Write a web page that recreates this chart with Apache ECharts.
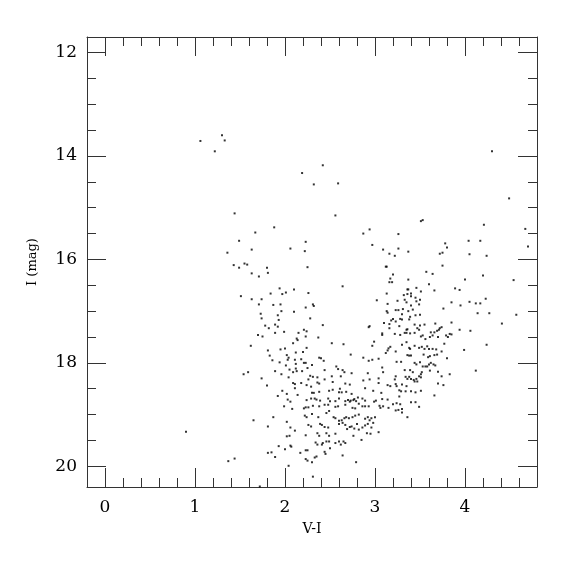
<!DOCTYPE html>
<html><head><meta charset="utf-8">
<script src="https://cdn.jsdelivr.net/npm/echarts@6/dist/echarts.min.js"></script>
<style>html,body{margin:0;padding:0;background:#fff}#c{width:575px;height:575px}</style>
</head><body><div id="c"></div>
<script>
const xMajorTicks = [0, 1, 2, 3, 4];
const xMinorTicks = [0.2,0.4,0.6,0.8,1.2,1.4,1.6,1.8,2.2,2.4,2.6,2.8,3.2,3.4,3.6,3.8,4.2,4.4,4.6];
const yMajorTicks = [12, 14, 16, 18, 20];
const yMinorTicks = [12.5,13,13.5,14.5,15,15.5,16.5,17,17.5,18.5,19,19.5];

const pointsUpperLeft = [
[1.30,13.60],[1.06,13.71],[1.33,13.70],[1.22,13.91],
[1.44,15.11],[1.88,15.38],[1.67,15.48],[1.49,15.64],[1.63,15.81],[2.06,15.79],[1.36,15.87],[1.43,16.11],[1.49,16.16],[1.55,16.08],[1.58,16.10],[1.80,16.16],[1.81,16.26],[1.63,16.27],[1.71,16.33],[1.94,16.56],[1.84,16.66],[1.97,16.67],[2.01,16.64],[2.10,16.58],[1.51,16.71],[1.63,16.77],[1.74,16.77]
];
const pointsMiddle = [
[2.42,14.18],[2.19,14.33],[2.32,14.55],[2.59,14.53],[2.56,15.15],[2.87,15.50],[2.94,15.42],[2.23,15.66],[2.22,15.84],[2.97,15.72],[2.25,16.15],[2.64,16.52],[2.26,16.65],[1.71,16.87],[1.87,16.88],[1.95,16.87],[2.31,16.87],[2.32,16.90],[3.02,16.79],[1.73,17.05],[1.96,17.00],[2.10,17.01],[2.23,16.93],[1.92,17.08],[1.74,17.14],[1.93,17.17],[2.28,17.14],[1.78,17.28],[1.82,17.33],[1.89,17.26],[1.92,17.30],[2.42,17.27],[2.93,17.31],[2.94,17.29],[1.70,17.46],[1.75,17.49],[1.89,17.42],[1.99,17.40],[2.15,17.42],[2.21,17.36],[2.24,17.39],[2.13,17.53],[2.23,17.49],[2.37,17.51]
];
const pointsLower = [
[1.62,17.67],[1.81,17.76],[1.83,17.86],[1.95,17.74],[2.00,17.72],[2.02,17.85],[2.03,17.94],[2.04,17.90],[2.09,17.62],[2.14,17.56],[2.12,17.80],[2.20,17.79],[2.24,17.71],[2.52,17.62],[2.65,17.64],[2.73,17.84],[2.97,17.67],[2.99,17.59],
[1.86,17.95],[1.94,17.99],[2.11,17.94],[2.18,17.93],[2.21,18.00],[2.23,18.00],[2.30,18.04],[2.38,17.90],[2.40,17.91],[2.43,17.96],[2.87,17.90],[2.93,17.96],[2.97,17.94],
[1.54,18.22],[1.59,18.18],[1.89,18.16],[1.96,18.22],[2.05,18.13],[2.12,18.11],[2.13,18.16],[2.09,18.18],[2.19,18.16],[2.44,18.14],[2.57,18.07],[2.59,18.12],[2.64,18.14],[2.66,18.18],[2.74,18.20],[2.92,18.20],
[2.28,18.25],[2.31,18.27],[2.36,18.28],[2.52,18.26],[1.74,18.30],[2.09,18.39],[2.11,18.41],[2.18,18.39],[2.26,18.32],[2.36,18.38],[2.44,18.32],[2.53,18.37],[2.67,18.40],[2.72,18.42],[2.87,18.34],[2.94,18.32],
[1.80,18.44],[2.11,18.49],[2.24,18.43],[2.29,18.46],[2.38,18.40],[2.61,18.50],[2.89,18.49],[2.98,18.54],
[1.97,18.54],[2.02,18.60],[1.92,18.64],[2.14,18.62],[2.30,18.58],[2.32,18.58],[2.38,18.56],[2.49,18.54],[2.53,18.52],[2.60,18.57],[2.63,18.57],[2.68,18.56],[2.74,18.60],[2.77,18.70],[2.79,18.74],[2.81,18.67],[2.86,18.69],
[2.03,18.71],[2.06,18.75],[2.24,18.72],[2.29,18.69],[2.33,18.69],[2.35,18.71],[2.39,18.73],[2.48,18.69],[2.50,18.74],[2.56,18.74],[2.60,18.69],[2.67,18.74],[2.70,18.72],[2.72,18.75],[2.73,18.73],[2.76,18.72],[2.82,18.79],[2.89,18.73],[2.99,18.75],[3.01,18.73],
[1.99,18.84],[2.08,18.89],[2.21,18.88],[2.23,18.86],[2.26,18.86],[2.31,18.83],[2.38,18.84],[2.44,18.81],[2.48,18.81],[2.56,18.85],[2.59,18.84],[2.67,18.81],[2.75,18.87],[2.78,18.88],[2.86,18.84],[2.89,18.84],[2.93,18.84],
[1.87,19.05],[1.65,19.11],[2.02,19.14],[2.22,19.02],[2.24,19.05],[2.30,18.99],[2.37,19.05],[2.46,18.97],[2.49,18.93],[2.54,19.05],[2.56,19.07],[2.60,19.12],[2.63,19.11],[2.66,19.07],[2.68,19.05],[2.71,19.07],[2.75,19.05],[2.78,19.02],[2.82,19.00],[2.89,19.08],[2.92,19.05],[2.94,19.11],[2.96,19.07],[3.00,19.05],
[1.81,19.23],[2.06,19.25],[2.11,19.31],[2.26,19.20],[2.29,19.23],[2.39,19.18],[2.41,19.20],[2.44,19.24],[2.48,19.25],[2.60,19.18],[2.64,19.16],[2.67,19.20],[2.69,19.28],[2.72,19.24],[2.74,19.23],[2.77,19.27],[2.80,19.18],[2.82,19.29],[2.86,19.25],[2.89,19.21],[2.92,19.18],[2.96,19.25],[2.98,19.16],[3.04,19.34],
[0.90,19.33],[2.02,19.42],[2.05,19.41],[2.23,19.40],[2.36,19.36],[2.38,19.41],[2.46,19.36],[2.49,19.41],[2.56,19.37],[2.76,19.41],[2.85,19.49],[2.91,19.36],[2.95,19.37],
[1.93,19.61],[2.00,19.67],[2.06,19.60],[2.07,19.62],[2.17,19.74],[2.23,19.69],[2.25,19.69],[2.34,19.54],[2.36,19.58],[2.41,19.58],[2.42,19.55],[2.46,19.52],[2.49,19.52],[2.50,19.65],[2.56,19.55],[2.60,19.52],[2.62,19.58],[2.65,19.52],[2.67,19.55],[2.44,19.72],[2.45,19.76],[2.64,19.79],[1.81,19.74],[1.85,19.73],[1.89,19.82],[1.37,19.90],[1.44,19.85],[2.23,19.86],[2.25,19.89],[2.30,19.92],[2.33,19.83],[2.35,19.81],[2.04,19.99],[2.79,19.92],[2.31,20.20],[1.72,20.39],
[2.25,18.10],[2.12,18.02],[2.04,18.28],[2.62,18.26],[3.09,18.18],[3.04,18.39],[2.01,18.05]
];
const pointsRightOuter = [
[4.30,13.91],[4.49,14.82],[3.51,15.26],[3.53,15.24],[4.21,15.33],[4.67,15.41],[3.26,15.51],[4.04,15.64],[4.17,15.64],[4.70,15.75],[3.09,15.81],[3.16,15.89],[3.22,15.93],[3.26,15.79],[3.37,15.85],[3.78,15.69],[3.80,15.77],[3.72,15.89],[3.75,15.87],[4.05,15.90],[4.24,15.93],[3.12,16.14],[3.13,16.14],[3.75,16.12],[3.20,16.29],[3.17,16.37],[3.16,16.44],[3.19,16.44],[3.57,16.24],[3.64,16.28],[3.60,16.48],[3.66,16.60],[4.00,16.39],[4.20,16.31],[4.54,16.40],[3.13,16.66],[3.36,16.58],[3.37,16.58],[3.36,16.67],[3.40,16.66],[3.40,16.71],[3.51,16.62],[3.46,16.55],[3.89,16.56],[3.94,16.59],[4.23,16.76],[4.05,16.82],[4.12,16.85],[4.17,16.85],[3.85,16.83],[3.95,16.89],[4.14,17.04],[4.27,17.04],[4.57,17.07],[4.41,17.24],[4.06,17.38],[4.24,17.65],[3.99,17.75],[4.12,18.15],[3.37,16.39]
];
const pointsRightDense = [
[3.32,16.69],[3.33,16.78],[3.35,16.83],[3.25,16.80],[3.14,16.86],[3.45,16.74],[3.46,16.81],[3.40,16.89],[3.50,16.78],[3.49,16.87],[3.76,16.95],
[3.13,17.00],[3.14,17.03],[3.23,16.98],[3.26,16.98],[3.31,16.96],[3.37,17.00],[3.42,16.97],[3.50,17.07],[3.45,17.08],[3.39,17.11],[3.38,17.16],[3.30,17.06],[3.20,17.15],[3.18,17.18],[3.16,17.25],[3.28,17.15],[3.30,17.16],[3.23,17.20],[3.10,17.23],[3.67,17.24],[3.85,17.22],[3.44,17.26],[3.50,17.28],[3.55,17.26],[3.27,17.29],[3.16,17.33],[3.36,17.35],[3.35,17.36],[3.47,17.33],[3.49,17.36],[3.62,17.41],[3.66,17.41],[3.69,17.38],[3.71,17.36],[3.72,17.33],[3.74,17.31],[3.94,17.36],
[3.08,17.43],[3.08,17.46],[3.22,17.44],[3.28,17.46],[3.33,17.42],[3.35,17.42],[3.39,17.43],[3.44,17.42],[3.51,17.49],[3.53,17.47],[3.56,17.54],[3.61,17.50],[3.64,17.47],[3.70,17.50],[3.79,17.47],[3.81,17.50],[3.83,17.44],[3.85,17.45],[3.77,17.63],
[3.15,17.72],[3.17,17.69],[3.35,17.60],[3.30,17.65],[3.38,17.71],[3.39,17.73],[3.44,17.67],[3.49,17.71],[3.52,17.69],[3.55,17.73],[3.58,17.68],[3.60,17.73],[3.64,17.73],[3.68,17.74],[3.74,17.78],[3.12,17.81],[3.14,17.76],[3.23,17.78],[3.36,17.85],[3.38,17.86],[3.40,17.86],[3.54,17.84],[3.59,17.89],[3.61,17.87],[3.66,17.85],[3.69,17.84],[3.80,17.91],[3.04,17.92],[3.24,17.98],[3.29,17.98],[3.44,18.00],[3.46,18.03],[3.50,17.99],[3.53,18.07],[3.56,18.07],[3.58,18.07],[3.60,18.03],[3.62,18.00],[3.65,18.03],[3.67,18.05],
[3.08,18.09],[3.33,18.14],[3.39,18.14],[3.42,18.18],[3.51,18.22],[3.52,18.18],[3.61,18.15],[3.70,18.17],[3.74,18.26],[3.83,18.22],[3.04,18.30],[3.23,18.26],[3.22,18.32],[3.34,18.27],[3.36,18.31],[3.38,18.27],[3.40,18.31],[3.43,18.33],[3.44,18.36],[3.46,18.31],[3.47,18.36],[3.49,18.26],[3.51,18.28],[3.23,18.41],[3.24,18.45],[3.14,18.43],[3.17,18.45],[3.30,18.42],[3.35,18.45],[3.70,18.40],[3.76,18.43],
[3.07,18.58],[3.08,18.70],[3.27,18.53],[3.29,18.55],[3.34,18.55],[3.40,18.55],[3.45,18.57],[3.51,18.54],[3.66,18.63],[3.14,18.71],[3.27,18.65],[3.40,18.76],[3.45,18.76],[3.24,18.78],[3.28,18.80],[3.20,18.80],[3.05,18.83],[3.06,18.87],[3.09,18.84],[3.23,18.92],[3.26,18.91],[3.30,18.96],[3.30,18.89],[3.15,18.87],[3.49,18.85],[3.36,19.05]
];

const allPoints = [].concat(pointsUpperLeft, pointsMiddle, pointsLower, pointsRightOuter, pointsRightDense);

const FONT = 'DejaVu Serif';
const LINE = '#333';
const X_MIN = -0.2, X_MAX = 4.8, Y_MIN = 11.7, Y_MAX = 20.4;

function xAx(pos, ticks, len, labels, line, extra) {
  return Object.assign({
    type: 'value', position: pos, min: X_MIN, max: X_MAX,
    axisLine: {show: line, onZero: false, lineStyle: {color: LINE, width: 1}},
    axisTick: {show: true, inside: true, length: len, customValues: ticks, lineStyle: {color: LINE, width: 1}},
    axisLabel: labels ? {show: true, customValues: ticks, margin: 12, color: '#000', fontFamily: FONT, fontSize: 17} : {show: false},
    splitLine: {show: false}
  }, extra || {});
}
function yAx(pos, ticks, len, labels, line, extra) {
  return Object.assign({
    type: 'value', position: pos, min: Y_MIN, max: Y_MAX, inverse: true,
    axisLine: {show: line, onZero: false, lineStyle: {color: LINE, width: 1}},
    axisTick: {show: true, inside: true, length: len, customValues: ticks, lineStyle: {color: LINE, width: 1}},
    axisLabel: labels ? {show: true, customValues: ticks, margin: 10, color: '#000', fontFamily: FONT, fontSize: 17} : {show: false},
    splitLine: {show: false}
  }, extra || {});
}

const chart = echarts.init(document.getElementById('c'), null, {renderer: 'canvas'});
chart.setOption({
  animation: false,
  backgroundColor: '#fff',
  grid: {left: 87, right: 38, top: 37, bottom: 88, containLabel: false},
  xAxis: [
    xAx('bottom', xMinorTicks, 9, false, true, {name: 'V-I', nameLocation: 'middle', nameGap: 35, nameTextStyle: {color: '#000', fontFamily: FONT, fontSize: 14}}),
    xAx('bottom', xMajorTicks, 19, true, false),
    xAx('top', xMinorTicks, 9, false, true),
    xAx('top', xMajorTicks, 19, false, false)
  ],
  yAxis: [
    yAx('left', yMinorTicks, 9, false, true, {name: 'I (mag)', nameLocation: 'middle', nameGap: 48, nameRotate: 90, nameTextStyle: {color: '#000', fontFamily: FONT, fontSize: 13}}),
    yAx('left', yMajorTicks, 19, true, false),
    yAx('right', yMinorTicks, 9, false, true),
    yAx('right', yMajorTicks, 19, false, false)
  ],
  series: [{
    type: 'scatter', xAxisIndex: 0, yAxisIndex: 0,
    symbol: 'rect', symbolSize: 2,
    itemStyle: {color: '#000'},
    silent: true,
    data: allPoints
  }]
});
</script></body></html>
